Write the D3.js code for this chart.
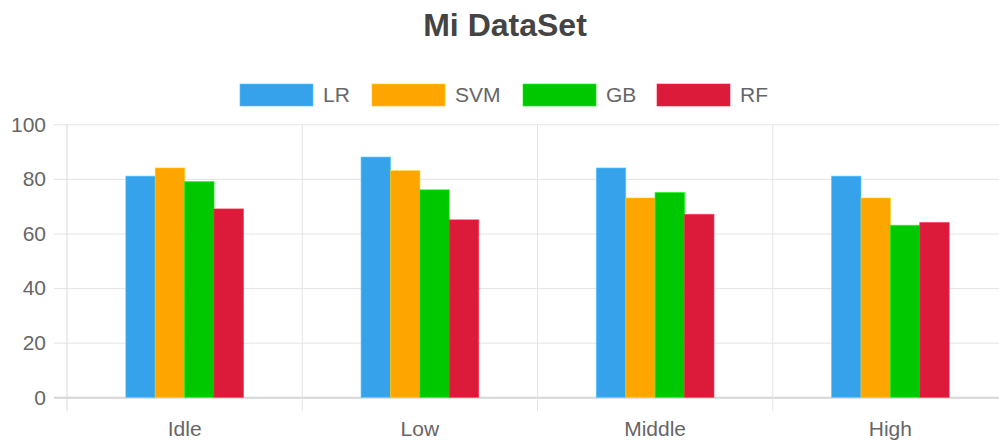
<!DOCTYPE html>
<html>
<head>
<meta charset="utf-8">
<script src="https://cdn.jsdelivr.net/npm/d3@7"></script>
<style>
  html, body { margin: 0; padding: 0; background: #fff; overflow: hidden; }
  text { font-family: "Liberation Sans", Arial, Helvetica, sans-serif; }
</style>
</head>
<body>
<div class="chart"></div>
<script>
// Mi DataSet grouped bars
var categories = ["Idle", "Low", "Middle", "High"];
var seriesNames = ["LR", "SVM", "GB", "RF"];
var seriesColors = ["#36A2EB", "#FFA500", "#00C800", "#DC1A3A"];
var lrValues = [81, 88, 84, 81];
var svmValues = [84, 83, 73, 73];
var gbValues = [79, 76, 75, 63];
var rfValues = [69, 65, 67, 64];
var yTicks = [0, 20, 40, 60, 80, 100];

var seriesValues = [lrValues, svmValues, gbValues, rfValues];

var svgWidth = 1010;
var svgHeight = 441;

var plot = { left: 67, right: 1008, top: 124.3, bottom: 397.3 };

var svg = d3.select(".chart")
  .append("svg")
  .attr("width", svgWidth)
  .attr("height", svgHeight);

var xScale = d3.scaleBand()
  .domain(categories)
  .range([plot.left, plot.right])
  .padding(0);

var yScale = d3.scaleLinear()
  .domain([0, 100])
  .range([plot.bottom, plot.top]);

var bw = xScale.bandwidth();
var seriesScale = d3.scaleBand()
  .domain(seriesNames)
  .range([bw * 0.25, bw * 0.75])
  .padding(0);

// horizontal grid lines (with tick marks to the left)
var yAxis = d3.axisLeft(yScale)
  .tickValues(yTicks)
  .tickSize(-(plot.right - plot.left) - 13)
  .tickFormat(d3.format("d"));

var yAxisG = svg.append("g")
  .attr("transform", `translate(${plot.left - 13}, 0)`)
  .call(yAxis);
yAxisG.select(".domain").remove();
yAxisG.selectAll(".tick line")
  .attr("stroke", d => d === 0 ? "#d6d6d6" : "#e4e4e4")
  .attr("stroke-width", d => d === 0 ? 2 : 1);
yAxisG.selectAll(".tick text")
  .attr("fill", "#666")
  .attr("font-size", "21px")
  .attr("x", -8);

// vertical grid lines at category boundaries
var boundaries = categories.map(c => xScale(c));
svg.append("g")
  .selectAll("line")
  .data(boundaries)
  .enter()
  .append("line")
  .attr("x1", d => d)
  .attr("x2", d => d)
  .attr("y1", plot.top)
  .attr("y2", plot.bottom + 14)
  .attr("stroke", (d, i) => i === 0 ? "#d8d8d8" : "#e4e4e4")
  .attr("stroke-width", 1);

// x labels
var xAxis = d3.axisBottom(xScale).tickSize(0).tickPadding(24);
var xAxisG = svg.append("g")
  .attr("transform", `translate(0, ${plot.bottom})`)
  .call(xAxis);
xAxisG.select(".domain").remove();
xAxisG.selectAll(".tick text")
  .attr("fill", "#666")
  .attr("font-size", "21px");

// bars
var barGroups = svg.append("g")
  .selectAll("g")
  .data(seriesNames)
  .enter()
  .append("g")
  .attr("fill", (d, i) => seriesColors[i]);

barGroups.selectAll("rect")
  .data((s, si) => categories.map((c, ci) => ({ cat: c, series: s, value: seriesValues[si][ci], si: si })))
  .enter()
  .append("rect")
  .attr("x", d => xScale(d.cat) + seriesScale(d.series))
  .attr("width", seriesScale.bandwidth())
  .attr("y", d => yScale(d.value))
  .attr("height", d => plot.bottom - yScale(d.value))
  .attr("stroke", d => d3.color(seriesColors[d.si]).brighter(0.6))
  .attr("stroke-width", 1)
  .attr("stroke-opacity", 0.6);

// legend
var legendX = [240, 372, 523, 657];
var legend = svg.append("g")
  .selectAll("g")
  .data(seriesNames)
  .enter()
  .append("g")
  .attr("transform", (d, i) => `translate(${legendX[i]}, 84)`);

legend.append("rect")
  .attr("width", 73)
  .attr("height", 22)
  .attr("fill", (d, i) => seriesColors[i])
  .attr("stroke", (d, i) => d3.color(seriesColors[i]).brighter(0.6))
  .attr("stroke-opacity", 0.6);

legend.append("text")
  .attr("x", 83)
  .attr("y", 11)
  .attr("dy", "0.35em")
  .attr("fill", "#666")
  .attr("font-size", "21px")
  .text(d => d);

// title
svg.append("text")
  .attr("x", 505)
  .attr("y", 36)
  .attr("text-anchor", "middle")
  .attr("fill", "#444")
  .attr("font-size", "32px")
  .attr("font-weight", "bold")
  .text("Mi DataSet");
</script>
</body>
</html>
